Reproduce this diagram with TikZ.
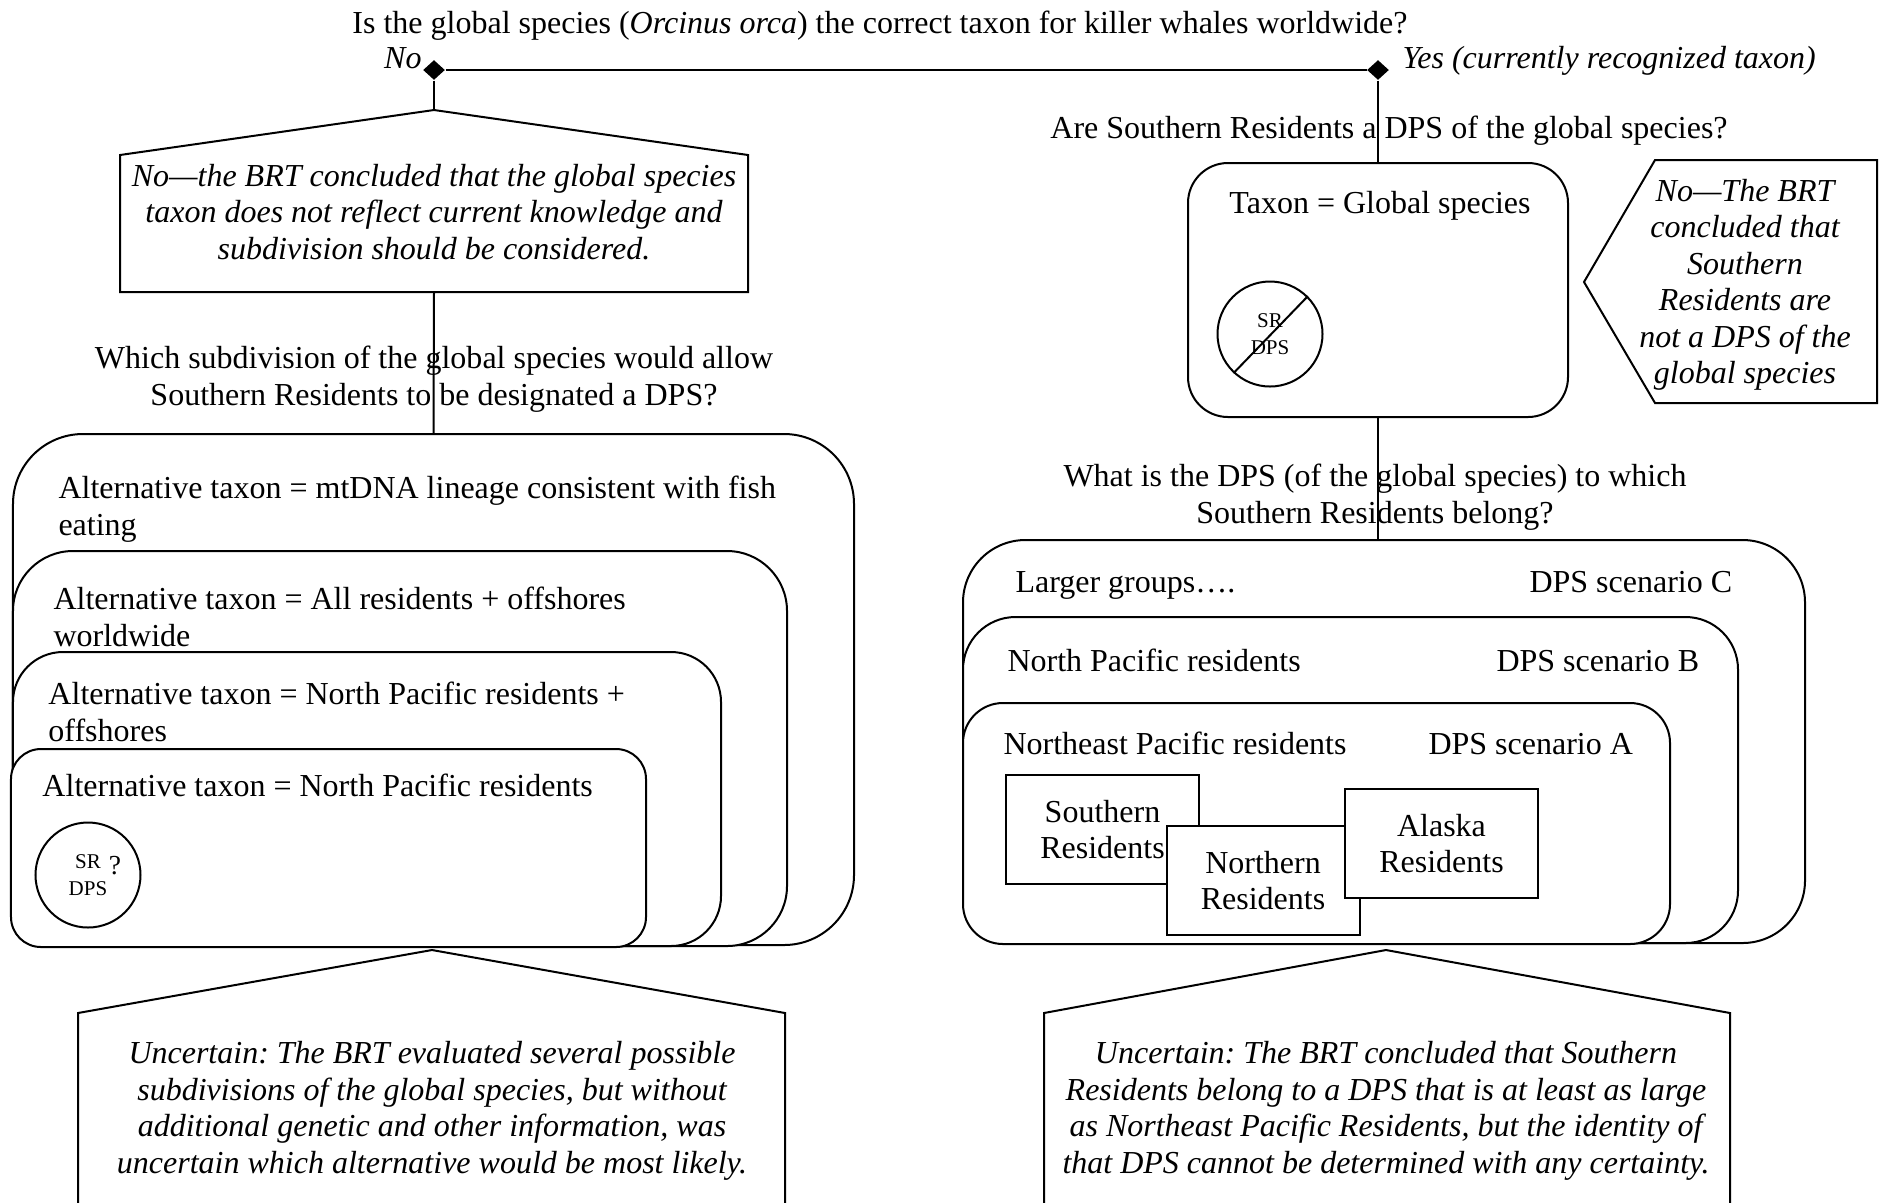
\documentclass[tikz,border=0pt]{standalone}
\usepackage{fontspec}
\setmainfont{Liberation Serif}
\usetikzlibrary{shapes.geometric, positioning}

\begin{document}
\frenchspacing
\begin{tikzpicture}[
    x=0.4pt, y=-0.4pt,
    font=\fontsize{12.8}{14.6}\selectfont,
    question/.style={align=center, inner sep=0pt},
    choice/.style={diamond, fill=black, inner sep=0pt, minimum width=8.8pt, minimum height=8pt},
    verdict/.style={align=center, inner sep=0pt, font=\fontsize{12.8}{14.6}\selectfont\itshape},
    answer/.style={inner sep=0pt, font=\fontsize{12.8}{14.6}\selectfont\itshape},
    nest/.style={rectangle, draw, fill=white, line width=0.8pt, rounded corners=#1},
    tag/.style={inner sep=0pt, align=left},
    pop/.style={rectangle, draw, fill=white, line width=0.8pt, align=center, minimum width=77.2pt, minimum height=43.6pt, inner sep=0pt},
    dps/.style={circle, draw, line width=0.8pt, align=center, inner sep=0pt, minimum size=42pt, font=\fontsize{8.4}{10.6}\selectfont},
    link/.style={line width=0.8pt}
]
\useasboundingbox (0,0) rectangle (1879,1202);
\clip (0,0) rectangle (1879,1202);

% Top question
\node[question, anchor=base] (q1) at (880,33) {Is the global species (\textit{Orcinus orca}) the correct taxon for killer whales worldwide?};
\node[choice] (dNo) at (434,70) {};
\node[choice] (dYes) at (1378,70) {};
\node[answer, anchor=base east] (no) at (422,68) {No};
\node[answer, anchor=base west] (yes) at (1402,68) {Yes (currently recognized taxon)};
\draw[link] (dNo) -- (dYes);

% No path
\coordinate (apexL) at (434,110);
\coordinate (baseL) at (434,292);
\draw[link] (baseL) -- (120,292) -- (120,155) -- (apexL) -- (748,155) -- (748,292) -- cycle;
\node[verdict] (verdictL) at (434,212) {No---the BRT concluded that the global species\\taxon does not reflect current knowledge and\\subdivision should be considered.};
\draw[link] (dNo) -- (apexL);

\node[question] (q2) at (434,379) {Which subdivision of the global species would allow\\Southern Residents to be designated a DPS?};

% Alternative taxa
\node[nest=28pt, minimum width=336.4pt, minimum height=204.4pt] (altA) at (433.5,689.5) {};
\node[tag, anchor=west] (altAtxt) at (58,509) {Alternative taxon = mtDNA lineage consistent with fish\\eating};
\node[nest=24pt, minimum width=309.6pt, minimum height=158pt] (altB) at (400,748.5) {};
\node[tag, anchor=west] (altBtxt) at (53,617) {Alternative taxon = All residents + offshores\\worldwide};
\node[nest=20pt, minimum width=283.2pt, minimum height=117.6pt] (altC) at (367,799) {};
\node[tag, anchor=west] (altCtxt) at (48,712) {Alternative taxon = North Pacific residents +\\offshores};
\node[nest=12pt, minimum width=254pt, minimum height=79.2pt] (altD) at (328.5,848) {};
\node[tag, anchor=base west] (altDtxt) at (42,796) {Alternative taxon = North Pacific residents};
\node[dps] (srL) at (88,875) {SR\\DPS};
\node[inner sep=0pt, font=\fontsize{11}{13}\selectfont] (qm) at (115,866) {?};
\draw[link] (baseL) -- (altA.north);

% Uncertain (left)
\coordinate (apexBL) at (432,950);
\draw[link] (78,1230) -- (78,1013) -- (apexBL) -- (785,1013) -- (785,1230);
\node[verdict] (verdictBL) at (432,1111) {Uncertain: The BRT evaluated several possible\\subdivisions of the global species, but without\\additional genetic and other information, was\\uncertain which alternative would be most likely.};

% Yes path
\node[question, anchor=base] (q3) at (1389,138) {Are Southern Residents a DPS of the global species?};
\node[nest=16pt, minimum width=152pt, minimum height=101.6pt] (global) at (1378,290) {};
\node[question, anchor=base] (globaltxt) at (1380,213) {Taxon = Global species};
\node[dps] (srR) at (1270,334) {SR\\DPS};
\draw[link] (srR.-133) -- (srR.45);
\draw[link] (dYes) -- (global.north);

% Not a DPS
\coordinate (apexR) at (1584,282);
\draw[link] (apexR) -- (1655,160) -- (1877,160) -- (1877,403) -- (1655,403) -- cycle;
\node[verdict] (verdictR) at (1745,285) {No---The BRT\\concluded that\\Southern\\Residents are\\not a DPS of the\\global species};

% DPS scenarios
\node[question] (q4) at (1375,497) {What is the DPS (of the global species) to which\\Southern Residents belong?};
\node[nest=25pt, minimum width=336.8pt, minimum height=161.2pt] (scenC) at (1384,741.5) {};
\node[tag, anchor=base west] (scenCtxt) at (1015,592) {Larger groups….};
\node[tag, anchor=base west] (scenCname) at (1529,592) {DPS scenario C};
\node[nest=21pt, minimum width=310pt, minimum height=130.4pt] (scenB) at (1350.5,780) {};
\node[tag, anchor=base west] (scenBtxt) at (1007,671) {North Pacific residents};
\node[tag, anchor=base west] (scenBname) at (1496,671) {DPS scenario B};
\node[nest=16pt, minimum width=282.8pt, minimum height=96.4pt] (scenA) at (1316.5,823.5) {};
\node[tag, anchor=base west] (scenAtxt) at (1003,754) {Northeast Pacific residents};
\node[tag, anchor=base west] (scenAname) at (1428,754) {DPS scenario A};
\draw[link] (global.south) -- (global.south |- scenC.north);

% Resident communities
\node[pop] (south) at (1102.5,829.5) {Southern\\Residents};
\node[pop] (north) at (1263,880.5) {Northern\\Residents};
\node[pop] (alaska) at (1441.5,843.5) {Alaska\\Residents};

% Uncertain (right)
\coordinate (apexBR) at (1386,950);
\draw[link] (1044,1230) -- (1044,1013) -- (apexBR) -- (1730,1013) -- (1730,1230);
\node[verdict] (verdictBR) at (1386,1111) {Uncertain: The BRT concluded that Southern\\Residents belong to a DPS that is at least as large\\as Northeast Pacific Residents, but the identity of\\that DPS cannot be determined with any certainty.};

\end{tikzpicture}
\end{document}
